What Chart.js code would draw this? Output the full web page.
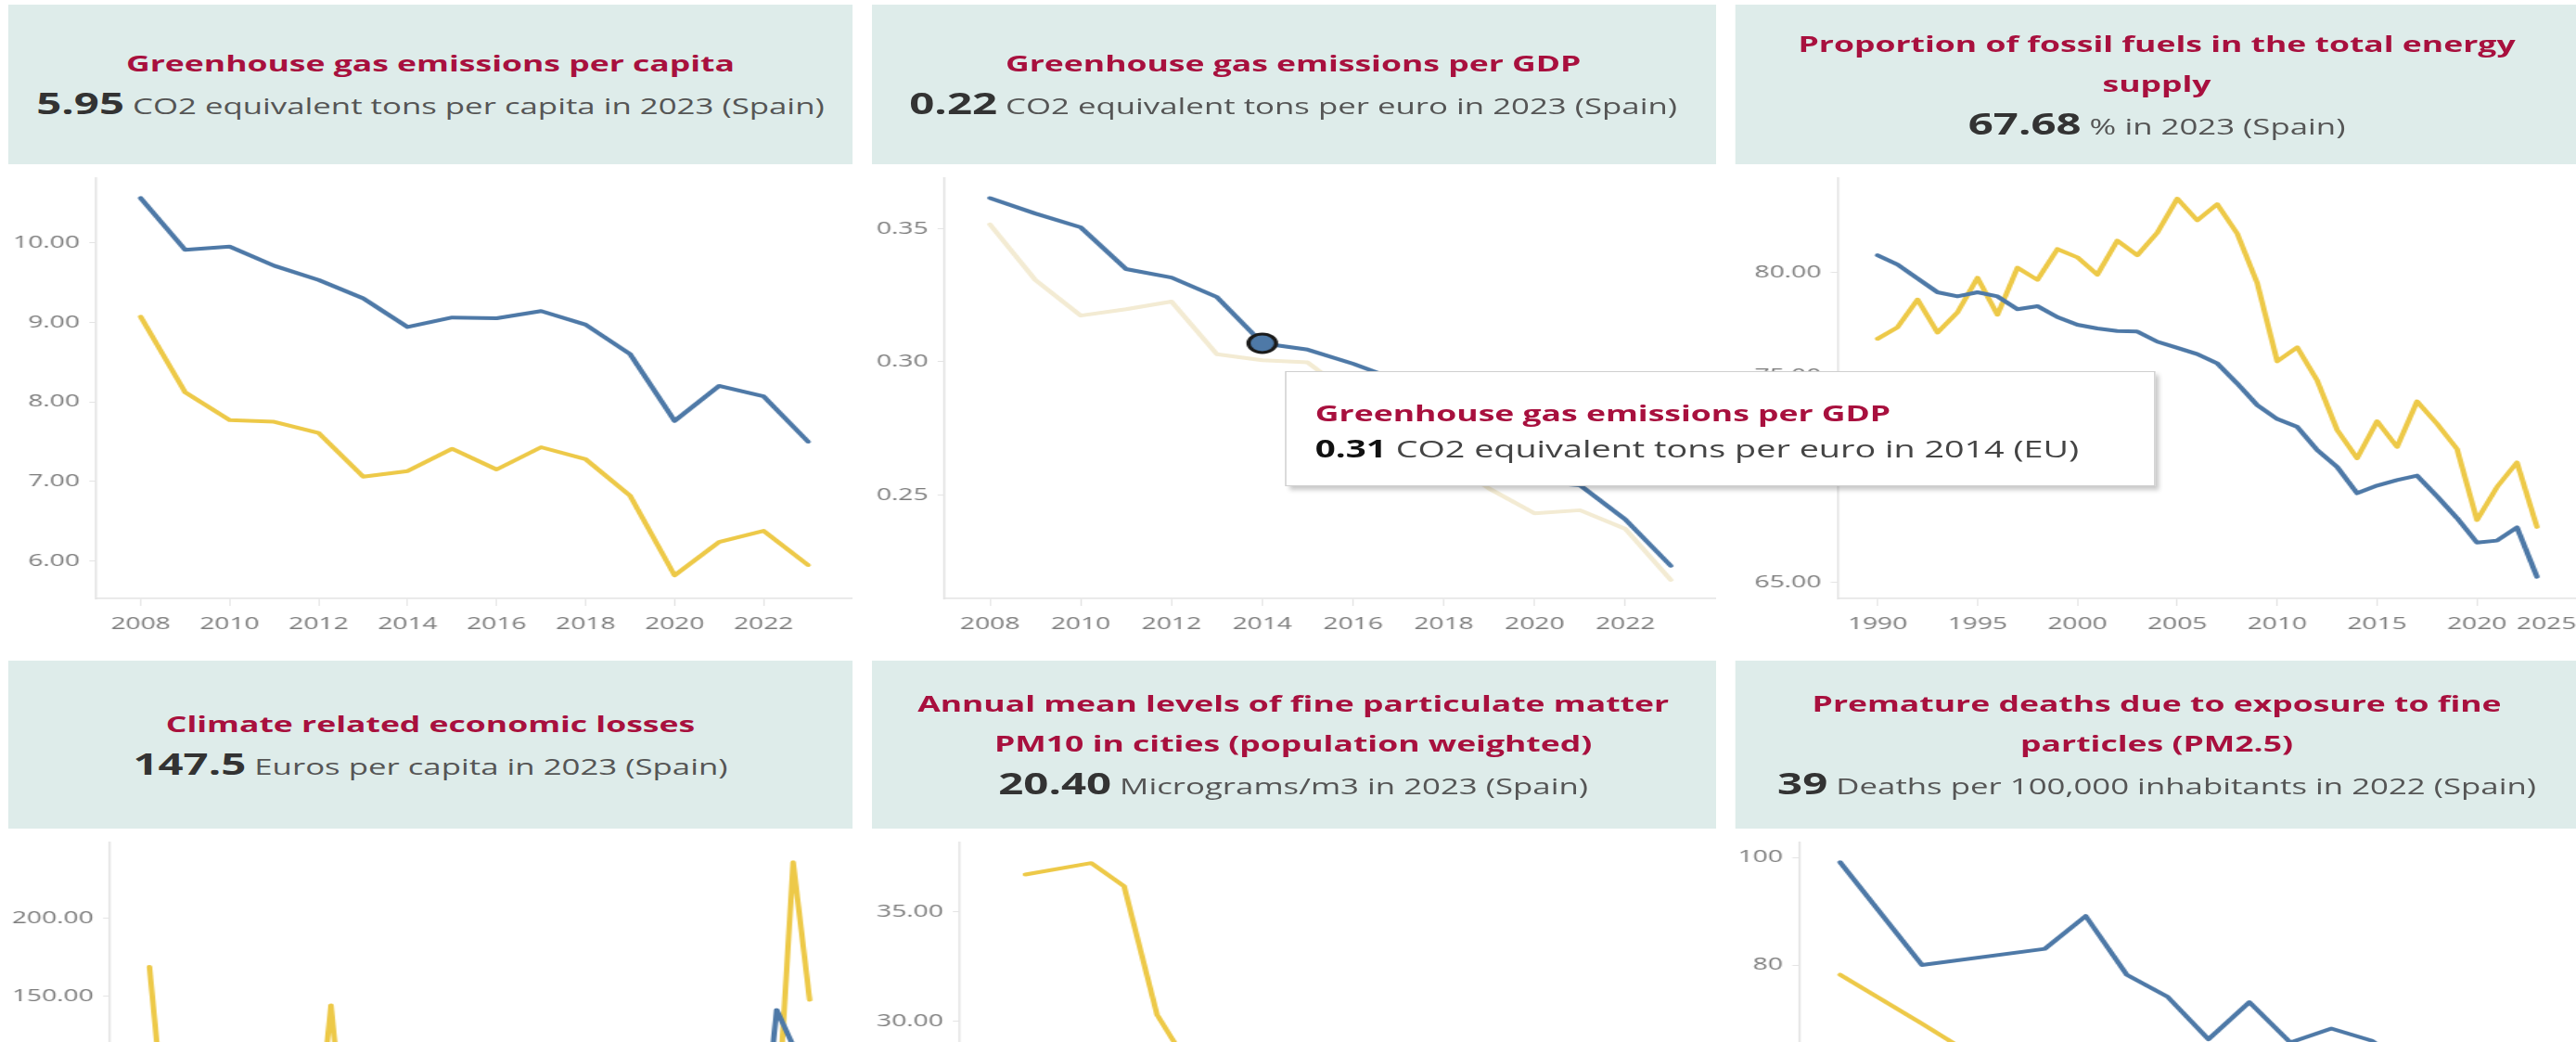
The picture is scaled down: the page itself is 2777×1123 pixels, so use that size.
<!DOCTYPE html>
<html>
<head>
<meta charset="utf-8">
<script src="https://cdn.jsdelivr.net/npm/chart.js@4.4.1/dist/chart.umd.min.js"></script>
<style>
html, body { margin: 0; padding: 0; background: #fff; overflow: hidden; }
/* the dashboard is laid out narrow and stretched sideways, like the screenshot */
#board { position: absolute; left: 0; top: 0; width: 1877px; height: 1123px; overflow: hidden;
         transform: scaleX(1.48); transform-origin: 0 0; font-family: 'Open Sans', sans-serif; }
.hdr { position: absolute; background: #deecea; display: flex; flex-direction: column;
       justify-content: center; align-items: center; text-align: center; white-space: nowrap; }
.hdr .t { color: #a8103e; font-weight: 700; font-size: 24px; line-height: 43px; }
.hdr .s { color: #555; font-size: 23.5px; line-height: 44px; }
.hdr .s b { color: #333; font-size: 32px; }
canvas { position: absolute; }
#tip { position: absolute; left: 936px; top: 400px; width: 634px; height: 124px; box-sizing: border-box;
       background: #fff; border: 1px solid #cfcfcf; box-shadow: 3px 4px 4px rgba(0,0,0,0.22);
       padding: 24px 0 0 21px; z-index: 10; white-space: nowrap; }
#tip div { line-height: 39px; }
#tip .t { color: #a8103e; font-weight: 700; font-size: 24px; }
#tip .s { color: #444; font-size: 25.5px; }
#tip .s b { color: #111; font-size: 26px; }
</style>
</head>
<body>
<div id="board">
  <div class="hdr" style="left:6px;top:5px;width:615px;height:172px">
    <div class="t">Greenhouse gas emissions per capita</div>
    <div class="s"><b>5.95</b> CO2 equivalent tons per capita in 2023 (Spain)</div>
  </div>
  <div class="hdr" style="left:634.5px;top:5px;width:615px;height:172px">
    <div class="t">Greenhouse gas emissions per GDP</div>
    <div class="s"><b>0.22</b> CO2 equivalent tons per euro in 2023 (Spain)</div>
  </div>
  <div class="hdr" style="left:1263.5px;top:5px;width:615px;height:172px">
    <div class="t">Proportion of fossil fuels in the total energy<br>supply</div>
    <div class="s"><b>67.68</b> % in 2023 (Spain)</div>
  </div>
  <div class="hdr" style="left:6px;top:712px;width:615px;height:181px">
    <div class="t">Climate related economic losses</div>
    <div class="s"><b>147.5</b> Euros per capita in 2023 (Spain)</div>
  </div>
  <div class="hdr" style="left:634.5px;top:712px;width:615px;height:181px">
    <div class="t">Annual mean levels of fine particulate matter<br>PM10 in cities (population weighted)</div>
    <div class="s"><b>20.40</b> Micrograms/m3 in 2023 (Spain)</div>
  </div>
  <div class="hdr" style="left:1263.5px;top:712px;width:615px;height:181px">
    <div class="t">Premature deaths due to exposure to fine<br>particles (PM2.5)</div>
    <div class="s"><b>39</b> Deaths per 100,000 inhabitants in 2022 (Spain)</div>
  </div>

  <canvas id="capita-chart" width="615" height="523" style="left:6px;top:177px"></canvas>
  <canvas id="gdp-chart" width="615" height="523" style="left:634.5px;top:177px"></canvas>
  <canvas id="fossil-chart" width="613" height="523" style="left:1263.5px;top:177px"></canvas>
  <canvas id="losses-chart" width="615" height="523" style="left:6px;top:893px"></canvas>
  <canvas id="pm10-chart" width="615" height="523" style="left:634.5px;top:893px"></canvas>
  <canvas id="deaths-chart" width="613" height="523" style="left:1263.5px;top:893px"></canvas>

  <div id="tip">
    <div class="t">Greenhouse gas emissions per GDP</div>
    <div class="s"><b>0.31</b> CO2 equivalent tons per euro in 2014 (EU)</div>
  </div>
</div>

<script>
// GHG per capita (t CO2e)
const capitaYears = [2008, 2009, 2010, 2011, 2012, 2013, 2014, 2015, 2016, 2017, 2018, 2019, 2020, 2021, 2022, 2023];
const capitaEU    = [10.56, 9.91, 9.95, 9.71, 9.53, 9.30, 8.94, 9.06, 9.05, 9.14, 8.97, 8.60, 7.76, 8.20, 8.07, 7.50];
const capitaSpain = [9.07, 8.12, 7.77, 7.75, 7.61, 7.06, 7.13, 7.41, 7.15, 7.43, 7.28, 6.82, 5.82, 6.24, 6.38, 5.95];
const capitaXTicks = [2008, 2010, 2012, 2014, 2016, 2018, 2020, 2022];
const capitaYTicks = [6, 7, 8, 9, 10];

// GHG per GDP (t CO2e per euro)
const gdpYears = [2008, 2009, 2010, 2011, 2012, 2013, 2014, 2015, 2016, 2017, 2018, 2019, 2020, 2021, 2022, 2023];
const gdpEU    = [0.3616, 0.3558, 0.3506, 0.3349, 0.3317, 0.3244, 0.3070, 0.3046, 0.2993, 0.2930, 0.2840, 0.2680, 0.2550, 0.2536, 0.2407, 0.2233];
const gdpSpain = [0.3517, 0.3308, 0.3174, 0.3198, 0.3227, 0.3029, 0.3006, 0.2998, 0.2870, 0.2780, 0.2640, 0.2523, 0.2430, 0.2442, 0.2372, 0.2180];
const gdpXTicks = [2008, 2010, 2012, 2014, 2016, 2018, 2020, 2022];
const gdpYTicks = [0.25, 0.30, 0.35];
const gdpHoverYear = 2014;

// fossil fuels share of energy supply (%)
const fossilYears = [1990, 1991, 1992, 1993, 1994, 1995, 1996, 1997, 1998, 1999, 2000, 2001, 2002, 2003, 2004, 2005, 2006,
                     2007, 2008, 2009, 2010, 2011, 2012, 2013, 2014, 2015, 2016, 2017, 2018, 2019, 2020, 2021, 2022, 2023];
const fossilEU    = [80.82, 80.37, 79.70, 79.03, 78.83, 79.03, 78.83, 78.21, 78.36, 77.83, 77.46, 77.28, 77.16, 77.13, 76.64, 76.34, 76.04,
                     75.59, 74.62, 73.57, 72.90, 72.52, 71.40, 70.58, 69.31, 69.68, 69.95, 70.16, 69.16, 68.11, 66.92, 67.02, 67.66, 65.27];
const fossilSpain = [76.78, 77.34, 78.68, 77.08, 78.06, 79.73, 77.94, 80.22, 79.63, 81.12, 80.72, 79.88, 81.53, 80.82, 81.91, 83.56, 82.51,
                     83.29, 81.87, 79.48, 75.69, 76.37, 74.77, 72.37, 71.00, 72.79, 71.55, 73.75, 72.67, 71.45, 68.01, 69.61, 70.80, 67.68];
const fossilXTicks = [1990, 1995, 2000, 2005, 2010, 2015, 2020, 2025];
const fossilYTicks = [65, 70, 75, 80];

// climate related economic losses (euros per capita)
const lossesYears = [1983, 1984, 1985, 1986, 1987, 1988, 1989, 1990, 1991, 1992, 1993, 1994, 1995, 1996, 1997, 1998, 1999, 2000, 2001, 2002, 2003,
                     2004, 2005, 2006, 2007, 2008, 2009, 2010, 2011, 2012, 2013, 2014, 2015, 2016, 2017, 2018, 2019, 2020, 2021, 2022, 2023];
const lossesEU    = [28, 22, 20, 24, 35, 22, 26, 48, 25, 22, 38, 45, 40, 24, 30, 28, 55, 48, 22, 78, 45,
                     20, 50, 22, 35, 20, 40, 45, 25, 35, 50, 30, 28, 32, 48, 40, 30, 35, 141, 118, 85];
const lossesSpain = [168.6, 60, 22, 15, 48, 20, 55, 25, 18, 30, 40, 144, 38, 62, 70, 15, 25, 45, 30, 35, 22,
                     18, 28, 20, 42, 25, 38, 48, 22, 40, 20, 35, 30, 25, 22, 38, 85, 30, 61, 235.7, 147.5];
const lossesXTicks = [1985, 1990, 1995, 2000, 2005, 2010, 2015, 2020];
const lossesYTicks = [0, 50, 100, 150, 200];

// PM10 in cities (micrograms/m3)
const pm10YearsEU = [2002, 2003, 2004, 2005, 2006, 2007, 2008, 2009, 2010, 2011, 2012, 2013, 2014, 2015, 2016, 2017, 2018, 2019, 2020, 2021, 2022, 2023];
const pm10EU      = [28.0, 28.5, 27.5, 27.8, 27.9, 26.8, 25.4, 24.5, 23.6, 24.6, 23.2, 22.1, 21.5, 22.3, 21.4, 21.8, 21.6, 20.8, 19.8, 20.5, 20.3, 19.7];
const pm10YearsSpain = [2003, 2005, 2006, 2007, 2008, 2009, 2010, 2011, 2012, 2013, 2014, 2015, 2016, 2017, 2018, 2019, 2020, 2021, 2022, 2023];
const pm10Spain      = [36.71, 37.23, 36.17, 30.31, 27.9, 26.4, 25.1, 25.8, 24.2, 22.6, 22.9, 24.3, 22.1, 23.0, 21.4, 21.6, 19.6, 20.2, 21.3, 20.40];
const pm10XTicks = [2005, 2010, 2015, 2020];
const pm10YTicks = [20, 25, 30, 35];

// premature deaths PM2.5 (per 100,000)
const deathsYears = [2005, 2007, 2010, 2011, 2012, 2013, 2014, 2015, 2016, 2017, 2018, 2019, 2020, 2021, 2022];
const deathsEU    = [99.1, 80.0, 83.0, 89.1, 78.2, 74.1, 66.2, 73.1, 65.6, 68.2, 65.9, 60.5, 54.0, 56.5, 52.5];
const deathsSpain = [78.2, 69.1, 55.0, 52.0, 50.5, 45.0, 42.5, 46.0, 41.0, 44.0, 41.5, 38.5, 34.0, 36.5, 39];
const deathsXTicks = [2005, 2010, 2015, 2020];
const deathsYTicks = [40, 60, 80, 100];

const BLUE = '#4e79a7';
const YELLOW = '#edc948';
const YELLOW_FADED = '#f3ebd3';
const TICK_GREY = '#7c7c7c';
const AXIS_GREY = '#e4e4e4';

Chart.defaults.font.family = "'Open Sans', sans-serif";

function pts(years, vals) {
    return years.map(function (yr, i) { return { x: yr, y: vals[i] }; });
}

function series(years, vals, color) {
    return { data: pts(years, vals), borderColor: color, backgroundColor: color };
}

function lineChart(id, o) {
    return new Chart(id, {
        type: 'line',
        data: { datasets: o.datasets },
        options: {
            responsive: false,
            animation: false,
            layout: { padding: { top: 15, left: 0, right: 0, bottom: 0 }, autoPadding: false },
            plugins: { legend: { display: false }, tooltip: { enabled: false } },
            elements: {
                line: { tension: 0, borderWidth: 4, borderCapStyle: 'round', borderJoinStyle: 'round' },
                point: { radius: 0, hoverRadius: 0 }
            },
            scales: {
                x: {
                    type: 'linear', min: o.xMin, max: o.xMax,
                    afterBuildTicks: function (s) { s.ticks = o.xTicks.map(function (v) { return { value: v }; }); },
                    // fixed axis height, and no extra room reserved for the end labels
                    afterFit: function (s) { s.height = 55; s.paddingLeft = 0; s.paddingRight = 0; },
                    grid: { drawOnChartArea: false, tickLength: 8, color: AXIS_GREY },
                    border: { color: AXIS_GREY, width: 1.5 },
                    ticks: { padding: 8, color: TICK_GREY, font: { size: 19 }, maxRotation: 0, autoSkip: false,
                             callback: o.xLabel || function (v) { return String(v); } }
                },
                y: {
                    min: o.yMin, max: o.yMax,
                    afterBuildTicks: function (s) { s.ticks = o.yTicks.map(function (v) { return { value: v }; }); },
                    afterFit: function (s) { s.width = o.yWidth; s.paddingTop = 0; s.paddingBottom = 0; },
                    grid: { drawOnChartArea: false, tickLength: 5, color: AXIS_GREY },
                    border: { color: AXIS_GREY, width: 1.5 },
                    ticks: { padding: 7, color: TICK_GREY, font: { size: 19 },
                             callback: o.yLabel || function (v) { return v.toFixed(2); } }
                }
            }
        }
    });
}

// GHG PER CAPITA
lineChart('capita-chart', {
    xMin: 2007, xMax: 2024, yMin: 5.53, yMax: 10.81, yWidth: 64,
    xTicks: capitaXTicks, yTicks: capitaYTicks,
    datasets: [series(capitaYears, capitaEU, BLUE), series(capitaYears, capitaSpain, YELLOW)]
});

// GHG PER GDP (EU line highlighted at the hovered year)
const gdpEUSet = series(gdpYears, gdpEU, BLUE);
gdpEUSet.pointRadius = function (ctx) { return ctx.raw && ctx.raw.x === gdpHoverYear ? 10 : 0; };
gdpEUSet.pointBorderWidth = 3;
gdpEUSet.pointBorderColor = '#1b1b1b';
gdpEUSet.pointBackgroundColor = BLUE;
lineChart('gdp-chart', {
    xMin: 2007, xMax: 2024, yMin: 0.2110, yMax: 0.3691, yWidth: 53,
    xTicks: gdpXTicks, yTicks: gdpYTicks,
    datasets: [gdpEUSet, series(gdpYears, gdpSpain, YELLOW_FADED)]
});

// FOSSIL FUELS SHARE
lineChart('fossil-chart', {
    xMin: 1988, xMax: 2025, yMin: 64.22, yMax: 84.55, yWidth: 74.5,
    xTicks: fossilXTicks, yTicks: fossilYTicks,
    // last label is pulled inside the view, like the original
    xLabel: function (v) { return v === 2025 ? '2025         ' : String(v); },
    datasets: [series(fossilYears, fossilEU, BLUE), series(fossilYears, fossilSpain, YELLOW)]
});

// CLIMATE LOSSES
lineChart('losses-chart', {
    xMin: 1980.6, xMax: 2025.6, yMin: -21.2, yMax: 248.4, yWidth: 74,
    xTicks: lossesXTicks, yTicks: lossesYTicks,
    datasets: [series(lossesYears, lossesEU, BLUE), series(lossesYears, lossesSpain, YELLOW)]
});

// PM10
lineChart('pm10-chart', {
    xMin: 2001, xMax: 2024, yMin: 18.97, yMax: 38.17, yWidth: 64,
    xTicks: pm10XTicks, yTicks: pm10YTicks,
    datasets: [series(pm10YearsEU, pm10EU, BLUE), series(pm10YearsSpain, pm10Spain, YELLOW)]
});

// PREMATURE DEATHS PM2.5
lineChart('deaths-chart', {
    xMin: 2004, xMax: 2023, yMin: 24.66, yMax: 102.76, yWidth: 46.5,
    xTicks: deathsXTicks, yTicks: deathsYTicks,
    yLabel: function (v) { return String(v); },
    datasets: [series(deathsYears, deathsEU, BLUE), series(deathsYears, deathsSpain, YELLOW)]
});
</script>
</body>
</html>
